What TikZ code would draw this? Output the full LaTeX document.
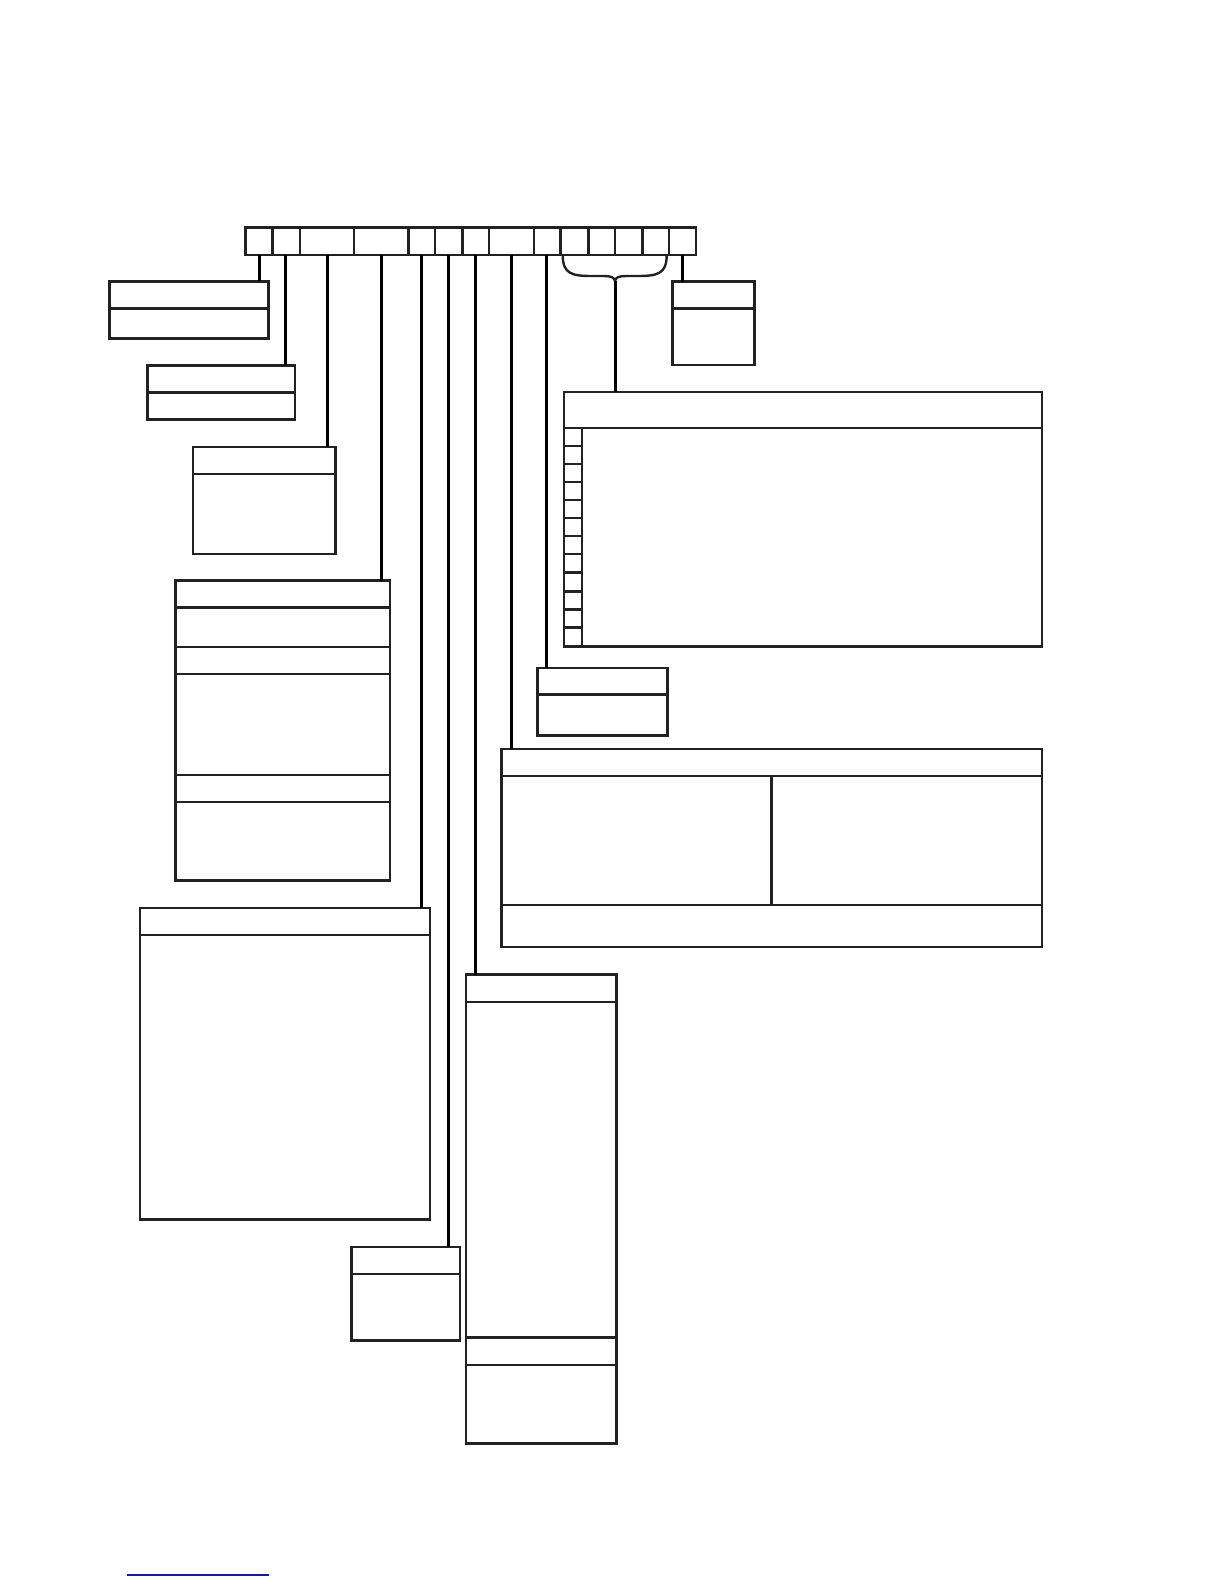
\documentclass[tikz,border=0pt]{standalone}
\usetikzlibrary{fit}
\definecolor{ink}{HTML}{222222}
\definecolor{linkblue}{RGB}{25,25,160}
\tikzset{
  box/.style={draw=ink, line width=1.25pt, inner sep=0pt, outer sep=0pt, rectangle},
  divline/.style={draw=ink, line width=1.25pt},
  conn/.style={draw=black, line width=1.5pt},
}
\begin{document}
\begin{tikzpicture}[x=0.5pt,y=-0.5pt]
\useasboundingbox (0,0) rectangle (1224,1584);

% register bar
\node[box, fit={(245.7,227.7) (696,255)}] (bar) {};
\foreach \xx in {272.7,300,354,408.3,435,462.3,489,534,560.7,588.3,615,642.3,669}
  \draw[divline] (\xx,227.7) -- (\xx,255);

% connector start points on bar
\coordinate (p1) at (259,255);
\coordinate (p2) at (285.7,255);
\coordinate (p3) at (327,255);
\coordinate (p4) at (381,255);
\coordinate (p5) at (421,255);
\coordinate (p6) at (448.3,255);
\coordinate (p7) at (475,255);
\coordinate (p8) at (511,255);
\coordinate (p9) at (546.7,255);
\coordinate (p11) at (682.3,255);
\coordinate (bl) at (562.7,255);
\coordinate (br) at (666.7,255);
\coordinate (btip) at (615,281);

% boxes
\node[box, fit={(109.3,281.3) (268.3,338.3)}] (A) {};
\draw[divline] (A.west |- 0,308.3) -- (A.east |- 0,308.3);

\node[box, fit={(147.7,365.3) (295,419.7)}] (B) {};
\draw[divline] (B.west |- 0,392.3) -- (B.east |- 0,392.3);

\node[box, fit={(193.1,446.9) (335.7,554)}] (C) {};
\draw[divline] (C.west |- 0,474.2) -- (C.east |- 0,474.2);

\node[box, fit={(175.7,580.7) (390,880.6)}] (D) {};
\foreach \yy in {607.7,647,674,775,802}
  \draw[divline] (D.west |- 0,\yy) -- (D.east |- 0,\yy);

\node[box, fit={(140,907.9) (430,1219.6)}] (E) {};
\draw[divline] (E.west |- 0,935) -- (E.east |- 0,935);

\node[box, fit={(351.7,1246.8) (460,1340.7)}] (F) {};
\draw[divline] (F.west |- 0,1273.9) -- (F.east |- 0,1273.9);

\node[box, fit={(466,974.6) (616.3,1443.7)}] (G) {};
\foreach \yy in {1001.8,1337.5,1365}
  \draw[divline] (G.west |- 0,\yy) -- (G.east |- 0,\yy);

\node[box, fit={(501.6,749) (1042,947)}] (H) {};
\draw[divline] (H.west |- 0,776) -- (H.east |- 0,776);
\draw[divline] (H.west |- 0,905) -- (H.east |- 0,905);
\draw[divline] (771.7,776) -- (771.7,905);

\node[box, fit={(537.5,668) (667.5,735.3)}] (I) {};
\draw[divline] (I.west |- 0,694.7) -- (I.east |- 0,694.7);

\node[box, fit={(564,392) (1042,646.7)}] (J) {};
\draw[divline] (J.west |- 0,428) -- (J.east |- 0,428);
\draw[divline] (582,428) -- (582,646.7);
\foreach \yy in {446,464,482,500,518,536,554,572.7,591.3,609.3,627.3}
  \draw[divline] (564,\yy) -- (582,\yy);

\node[box, fit={(672.7,281.7) (754.3,365)}] (K) {};
\draw[divline] (K.west |- 0,308.3) -- (K.east |- 0,308.3);

% connectors
\draw[conn] (p1) -- (p1 |- A.north);
\draw[conn] (p2) -- (p2 |- B.north);
\draw[conn] (p3) -- (p3 |- C.north);
\draw[conn] (p4) -- (p4 |- D.north);
\draw[conn] (p5) -- (p5 |- E.north);
\draw[conn] (p6) -- (p6 |- F.north);
\draw[conn] (p7) -- (p7 |- G.north);
\draw[conn] (p8) -- (p8 |- H.north);
\draw[conn] (p9) -- (p9 |- I.north);
\draw[conn] (p11) -- (p11 |- K.north);

% brace
\draw[draw=ink, line width=1.2pt] (bl) .. controls (562.7,274) and (572,276) .. (592,276)
  -- (604,276) .. controls (611,276) and (614.5,277.5) .. (btip);
\draw[draw=ink, line width=1.2pt] (br) .. controls (666.7,274) and (657.4,276) .. (637.4,276)
  -- (626,276) .. controls (619,276) and (615.5,277.5) .. (btip);
\draw[conn] (btip) -- (btip |- J.north);

% blue rule at bottom
\coordinate (r1) at (126.7,1574.7);
\coordinate (r2) at (269,1574.7);
\draw[draw=linkblue, line width=0.8pt] (r1) -- (r2);
\end{tikzpicture}
\end{document}
